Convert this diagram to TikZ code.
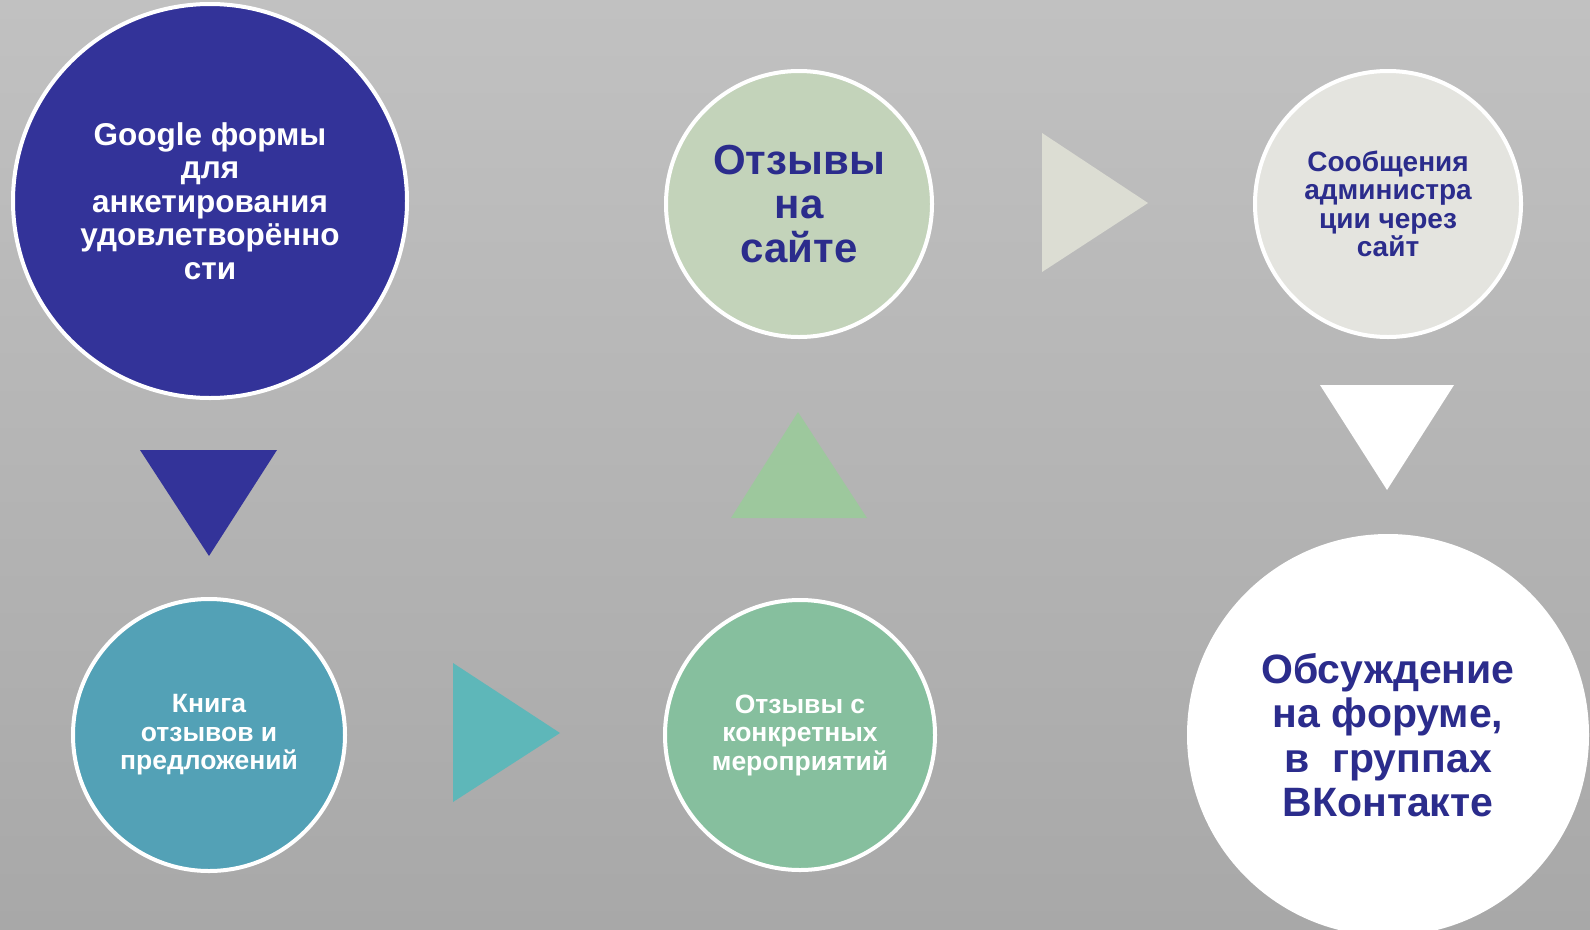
\documentclass[tikz,border=0pt]{standalone}
\usepackage{fontspec}
\setmainfont{Liberation Sans}
\definecolor{bgtop}{RGB}{193,193,193}
\definecolor{bgbot}{RGB}{168,168,168}
\definecolor{cblue}{RGB}{51,51,153}
\definecolor{cteal}{RGB}{83,161,182}
\definecolor{cgreen}{RGB}{134,191,158}
\definecolor{csage}{RGB}{195,211,186}
\definecolor{clight}{RGB}{228,228,223}
\definecolor{tteal}{RGB}{94,183,185}
\definecolor{tgreen}{RGB}{157,200,157}
\definecolor{tlight}{RGB}{220,221,211}
\definecolor{tdark}{RGB}{43,44,140}
\tikzset{
  bubble/.style={circle, draw=white, line width=4bp, inner sep=0pt, align=center, font=\bfseries},
}
\begin{document}
\begin{tikzpicture}[x=1bp,y=-1bp]
\useasboundingbox (0,0) rectangle (1590,929);
\shade[top color=bgtop, bottom color=bgbot] (0,0) rectangle (1590,929);
% circles
\node[bubble, fill=cblue, minimum size=394bp, text=white, font=\bfseries\fontsize{31.5bp}{33.5bp}\selectfont] (c1) at (210,201)
  {Google формы\\для\\анкетирования\\удовлетворённо\\сти};
\node[bubble, fill=cteal, minimum size=272bp, text=white, font=\bfseries\fontsize{26.5bp}{28.5bp}\selectfont] (c2) at (209,735)
  {Книга\\отзывов и\\предложений};
\node[bubble, fill=cgreen, minimum size=270bp, text=white, font=\bfseries\fontsize{26.5bp}{28.5bp}\selectfont] (c3) at (800,735)
  {Отзывы с\\конкретных\\мероприятий};
\node[bubble, fill=csage, minimum size=266bp, text=tdark, font=\bfseries\fontsize{42bp}{44bp}\selectfont] (c4) at (799,204)
  {Отзывы\\на\\сайте};
\node[bubble, fill=clight, minimum size=266bp, text=tdark, font=\bfseries\fontsize{28bp}{28.5bp}\selectfont] (c5) at (1388,204)
  {Сообщения\\администра\\ции через\\сайт};
\node[bubble, fill=white, minimum size=398bp, text=tdark, font=\bfseries\fontsize{41bp}{44.5bp}\selectfont] (c6) at (1388,735)
  {Обсуждение\\на форуме,\\в\ \ группах\\ВКонтакте};
% triangles (arrows between stages)
\fill[cblue] (140,450) -- (277,450) -- (209,556) -- cycle;
\fill[tteal] (453,663) -- (560,733) -- (453,802) -- cycle;
\fill[tgreen] (731,518) -- (867,518) -- (798,412) -- cycle;
\fill[tlight] (1042,133) -- (1148,203) -- (1042,272) -- cycle;
\fill[white] (1320,385) -- (1454,385) -- (1387,490) -- cycle;
\end{tikzpicture}
\end{document}
